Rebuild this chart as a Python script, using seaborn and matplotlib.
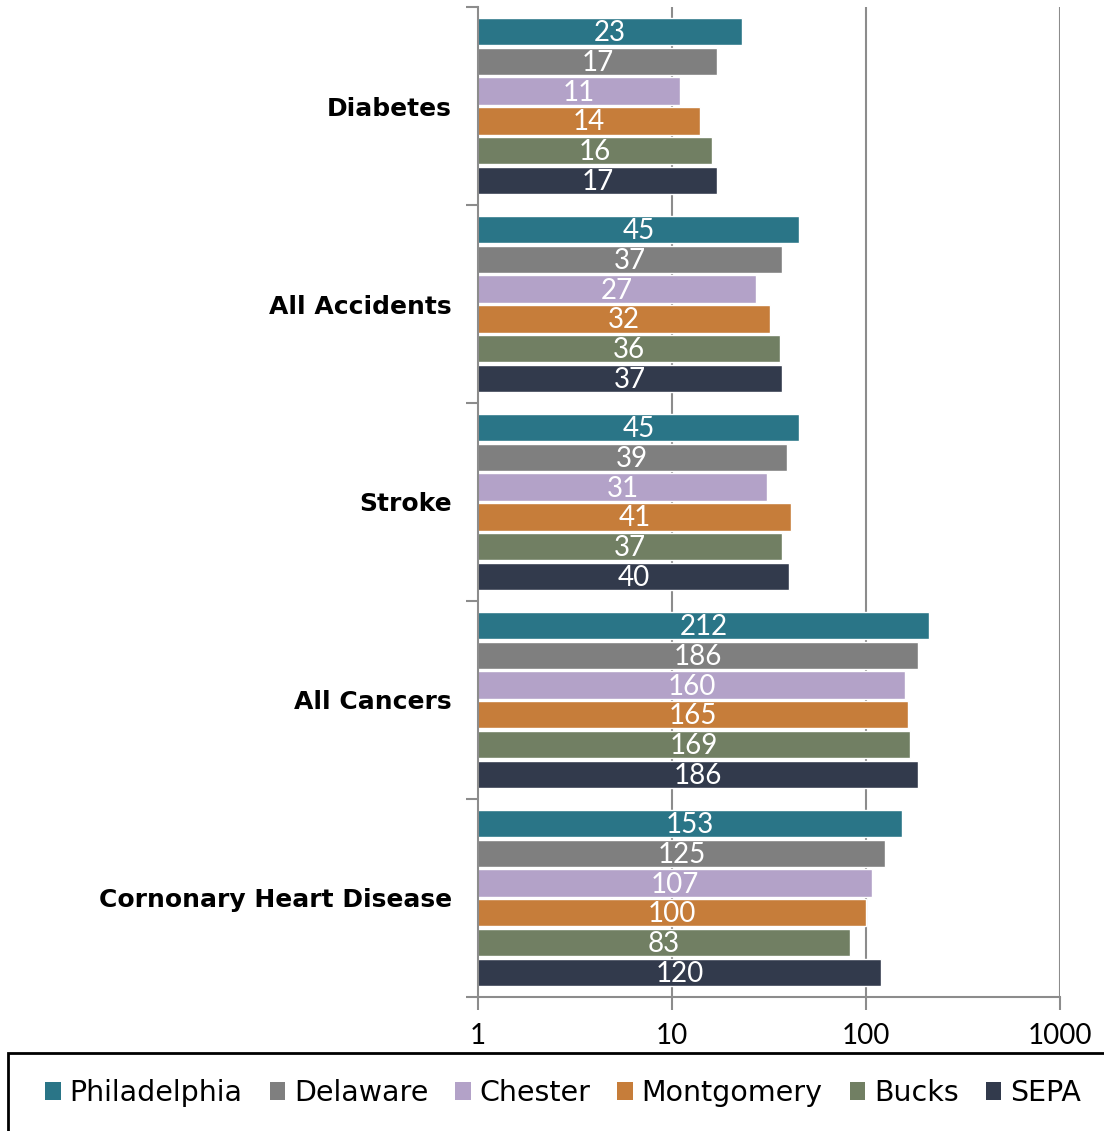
import numpy as np
import pandas as pd
import seaborn as sns
import matplotlib.pyplot as plt
from matplotlib.patches import Rectangle, Patch
from matplotlib.ticker import FixedLocator, NullFormatter

CAUSES = ['Diabetes', 'All Accidents', 'Stroke', 'All Cancers', 'Cornonary Heart Disease']
REGIONS = ['Philadelphia', 'Delaware', 'Chester', 'Montgomery', 'Bucks', 'SEPA']

philadelphia = [23, 45, 45, 212, 153]
delaware = [17, 37, 39, 186, 125]
chester = [11, 27, 31, 160, 107]
montgomery = [14, 32, 41, 165, 100]
bucks = [16, 36, 37, 169, 83]
sepa = [17, 37, 40, 186, 120]

COLORS = ['#2A7587', '#7F7F7F', '#B3A2C8', '#C67D3A', '#717F63', '#323A4C']

series = [philadelphia, delaware, chester, montgomery, bucks, sepa]
rows = []
for region, vals in zip(REGIONS, series):
    for cause, v in zip(CAUSES, vals):
        rows.append({'Cause': cause, 'Region': region, 'Rate': v})
df = pd.DataFrame(rows)

sns.set_style('white')
plt.rcParams['font.family'] = ['DejaVu Sans']
plt.rcParams['text.color'] = 'black'

fig = plt.figure(figsize=(11.04, 11.31), dpi=100)
ax = fig.add_axes([0.433, 0.1185, 0.527, 0.8753])

sns.barplot(data=df, y='Cause', x='Rate', hue='Region', order=CAUSES,
            hue_order=REGIONS, palette=COLORS, orient='h', width=0.9,
            gap=0.08, legend=False, saturation=1, ax=ax)
ax.set_xscale('log')
ax.set_xlim(1, 1000)
ax.set_ylim(4.5, -0.5)

# value labels centred inside each bar (log space)
for cont in ax.containers:
    for bar in cont:
        w = bar.get_width()
        yc = bar.get_y() + bar.get_height() / 2
        ax.text(np.sqrt(w), yc + 0.008, f'{w:.0f}', ha='center', va='center',
                color='white', fontsize=20, family='Lato')

# grid and spines
for v in [10, 100, 1000]:
    ax.axvline(v, color='#8C8C8C', lw=1.5, zorder=0)
for s in ['top', 'right']:
    ax.spines[s].set_visible(False)
for s in ['left', 'bottom']:
    ax.spines[s].set_color('#8C8C8C')
    ax.spines[s].set_linewidth(1.5)

ax.set_xticks([1, 10, 100, 1000])
ax.set_xticklabels(['1', '10', '100', '1000'], family='Lato')
ax.xaxis.set_minor_locator(FixedLocator([]))
ax.tick_params(axis='x', which='major', length=9, width=1.5, color='#8C8C8C',
               labelsize=20, labelcolor='black', pad=10, bottom=True)

ax.set_yticks(range(len(CAUSES)))
ax.set_yticklabels(CAUSES, fontweight='bold', fontsize=18)
ax.yaxis.set_minor_locator(FixedLocator(np.arange(-0.5, 5, 1)))
ax.yaxis.set_minor_formatter(NullFormatter())
ax.tick_params(axis='y', which='major', length=0, pad=19, labelcolor='black')
ax.tick_params(axis='y', which='minor', length=9, width=1.5, color='#8C8C8C', left=True)
ax.set_xlabel('')
ax.set_ylabel('')

# legend box at the bottom
fig.patches.append(Rectangle((0.0072, -0.02), 1.1, 0.0894, transform=fig.transFigure,
                             fill=False, edgecolor='black', lw=2, clip_on=False))
handles = [Patch(facecolor=c, edgecolor='none') for c in COLORS]
fig.legend(handles, REGIONS, loc='center', bbox_to_anchor=(0.51, 0.0336), ncol=6,
           frameon=False, fontsize=20.5, handlelength=0.55, handleheight=0.55,
           handletextpad=0.3, columnspacing=0.95, labelcolor='black')

fig.savefig('out.png', dpi=100)
